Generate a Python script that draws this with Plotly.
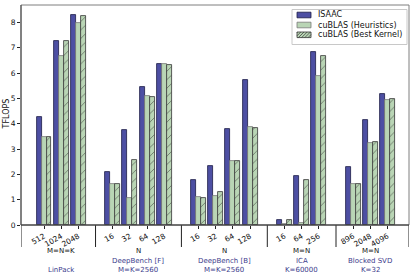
import plotly.graph_objects as go

# ---- data ----
groups = ["LinPack", "DeepBench [F]", "DeepBench [B]", "ICA", "Blocked SVD"]
group_line1 = ["M=N=K", "N", "N", "M=N", "M=N"]
group_line3 = ["", "M=K=2560", "M=K=2560", "K=60000", "K=32"]
series_names = ["ISAAC", "cuBLAS (Heuristics)", "cuBLAS (Best Kernel)"]
tick_labels = [
    ["512", "1024", "2048"],
    ["16", "32", "64", "128"],
    ["16", "32", "64", "128"],
    ["16", "64", "256"],
    ["896", "2048", "4096"],
]
isaac = [
    [4.25, 7.28, 8.28],
    [2.10, 3.74, 5.45, 6.37],
    [1.76, 2.34, 3.79, 5.72],
    [0.18, 1.94, 6.85],
    [2.30, 4.15, 5.17],
]
cublas_heur = [
    [3.48, 6.69, 7.99],
    [1.60, 1.05, 5.08, 6.37],
    [1.10, 1.14, 2.51, 3.87],
    [0.02, 0.09, 5.89],
    [1.63, 3.24, 4.95],
]
cublas_best = [
    [3.48, 7.26, 8.26],
    [1.60, 2.57, 5.04, 6.31],
    [1.06, 1.31, 2.51, 3.83],
    [0.18, 1.76, 6.68],
    [1.63, 3.28, 4.98],
]

# ---- layout of slots ----
centers, seps, gcenters = [], [], []
pos = 0
for labs in tick_labels:
    start = pos
    for _ in labs:
        centers.append(pos)
        pos += 1
    gcenters.append((start + pos - 1) / 2)
    seps.append(pos)
    pos += 1
seps = seps[:-1]
xmin, xmax = -1.34, 21.25

W, H = 415, 277
ML, MR, MT, MB = 21, 6, 5, 52
PW, PH = W - ML - MR, H - MT - MB


def px(xp):
    return (xp - ML) / PW


def py(yp):
    return (H - MB - yp) / PH


flat = lambda a: [v for g in a for v in g]
C_ISAAC = "#4d4fa3"
C_GREEN = "#b9d5b5"
bw = 0.29
fig = go.Figure()
fig.add_bar(x=[c - bw for c in centers], y=flat(isaac), width=bw, name=series_names[0],
            marker=dict(color=C_ISAAC, line=dict(color="#1c1c45", width=0.8)))
fig.add_bar(x=centers, y=flat(cublas_heur), width=bw, name=series_names[1],
            marker=dict(color=C_GREEN, line=dict(color="#7a7a7a", width=0.8)))
fig.add_bar(x=[c + bw for c in centers], y=flat(cublas_best), width=bw, name=series_names[2],
            marker=dict(color=C_GREEN, line=dict(color="#333333", width=0.8),
                        pattern=dict(shape="/", fgcolor="#222222", bgcolor=C_GREEN,
                                     size=6, solidity=0.15)))

shapes = []
for s in [xmin] + seps + [xmax]:
    shapes.append(dict(type="line", xref="x", yref="paper", x0=s, x1=s, y0=0, y1=py(247),
                       line=dict(color="#222222", width=1)))
# frame
shapes.append(dict(type="rect", xref="paper", yref="paper", x0=0, x1=1, y0=0, y1=1,
                   line=dict(color="#7f7f7f", width=1)))
shapes.append(dict(type="line", xref="paper", yref="paper", x0=0, x1=1, y0=0, y1=0,
                   line=dict(color="#222222", width=1)))
shapes.append(dict(type="line", xref="paper", yref="paper", x0=0, x1=0, y0=0, y1=1,
                   line=dict(color="#444444", width=1)))

ann = []
blue = "#3c3c8c"
GF = 7
for gi, gc in enumerate(gcenters):
    ann.append(dict(x=gc, y=py(251), xref="x", yref="paper", text=group_line1[gi], showarrow=False,
                    font=dict(size=GF, color="#111111"), yanchor="middle"))
    if gi == 0:
        ann.append(dict(x=gc, y=py(269.5), xref="x", yref="paper", text=groups[gi], showarrow=False,
                        font=dict(size=GF, color=blue), yanchor="middle"))
    else:
        ann.append(dict(x=gc, y=py(260.5), xref="x", yref="paper", text=groups[gi], showarrow=False,
                        font=dict(size=GF, color=blue), yanchor="middle"))
        ann.append(dict(x=gc, y=py(269.5), xref="x", yref="paper", text=group_line3[gi], showarrow=False,
                        font=dict(size=GF, color=blue), yanchor="middle"))

# y-axis title
ann.append(dict(x=px(5.5), y=py(114), xref="paper", yref="paper", text="TFLOPS", textangle=-90,
                showarrow=False, font=dict(size=8, color="#111111"),
                xanchor="center", yanchor="middle"))

# manual legend
lg_x0, lg_x1, lg_y0, lg_y1 = 292, 407, 9.5, 44.5
shapes.append(dict(type="rect", xref="paper", yref="paper", x0=px(lg_x0), x1=px(lg_x1),
                   y0=py(lg_y1), y1=py(lg_y0), fillcolor="white",
                   line=dict(color="#c8c8c8", width=1), layer="above"))
rows = [15, 25, 34.8]
sw_x0, sw_x1, sw_h = 297, 311, 2.8
fills = [(C_ISAAC, "#1c1c45"), (C_GREEN, "#7a7a7a"), (C_GREEN, "#333333")]
for i, (ry, name) in enumerate(zip(rows, series_names)):
    fc, lc = fills[i]
    shapes.append(dict(type="rect", xref="paper", yref="paper", x0=px(sw_x0), x1=px(sw_x1),
                       y0=py(ry + sw_h), y1=py(ry - sw_h), fillcolor=fc,
                       line=dict(color=lc, width=0.8), layer="above"))
    if i == 2:
        xs = sw_x0 - 5
        while xs < sw_x1:
            a0, b0 = xs, ry + sw_h
            a1, b1 = xs + 5.6, ry - sw_h
            if a0 < sw_x0:
                b0 = b0 - (sw_x0 - a0) * (2 * sw_h / 5.6)
                a0 = sw_x0
            if a1 > sw_x1:
                b1 = b1 + (a1 - sw_x1) * (2 * sw_h / 5.6)
                a1 = sw_x1
            shapes.append(dict(type="line", xref="paper", yref="paper", x0=px(a0), x1=px(a1),
                               y0=py(b0), y1=py(b1), line=dict(color="#333333", width=0.7),
                               layer="above"))
            xs += 3.2
    ann.append(dict(x=px(316), y=py(ry), xref="paper", yref="paper", text=name, showarrow=False,
                    xanchor="left", yanchor="middle", font=dict(size=8, color="#111111")))

fig.update_layout(
    width=W, height=H,
    margin=dict(l=ML, r=MR, t=MT, b=MB, autoexpand=False),
    plot_bgcolor="white", paper_bgcolor="white",
    barmode="overlay", bargap=0,
    font=dict(family="DejaVu Sans", size=8, color="#111111"),
    showlegend=False,
    shapes=shapes, annotations=ann,
    xaxis=dict(range=[xmin, xmax], tickvals=centers, ticktext=flat(tick_labels),
               tickangle=-30, ticks="outside", ticklen=3, tickcolor="#222",
               showgrid=False, zeroline=False, showline=False, automargin=False,
               tickfont=dict(size=7.5)),
    yaxis=dict(range=[0, 8.69], tickvals=list(range(9)), ticks="outside", ticklen=3,
               tickcolor="#222", showgrid=False, zeroline=False, showline=False,
               automargin=False, tickfont=dict(size=7.5)),
)
fig.write_html("out.html", config={"displayModeBar": False},
               post_script="document.body.style.margin='0';")
